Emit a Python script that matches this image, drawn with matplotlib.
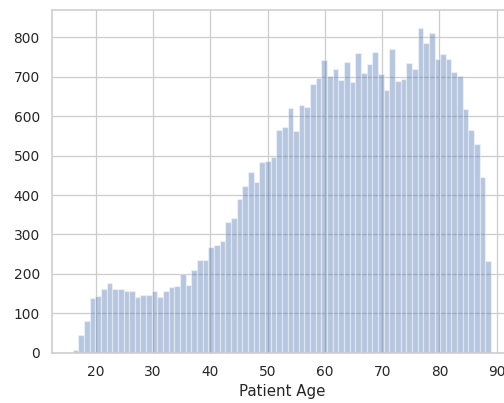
import numpy as np
import matplotlib
matplotlib.use("Agg")
import matplotlib.pyplot as plt
import seaborn as sns

# histogram of patient age: 74 bins between 16 and 89
age_min = 16
age_max = 89
counts = [8, 44, 81, 138, 145, 162, 178, 162, 162, 156,
          156, 142, 147, 147, 156, 142, 156, 168, 170, 201,
          173, 211, 234, 236, 269, 274, 283, 332, 341, 390,
          423, 458, 434, 484, 486, 497, 565, 574, 620, 563,
          628, 623, 682, 698, 743, 701, 719, 693, 739, 688,
          761, 711, 732, 763, 707, 666, 772, 689, 694, 734,
          719, 824, 785, 812, 745, 757, 745, 713, 703, 618,
          566, 530, 445, 232]

sns.set_style("whitegrid")
sns.set_context("notebook")
plt.rcParams['font.family'] = ['DejaVu Sans']

edges = np.linspace(age_min, age_max, len(counts) + 1)

dpi = 90
fig = plt.figure(figsize=(505 / dpi, 403 / dpi), dpi=dpi)
ax = fig.add_axes([51.7 / 505, 50.3 / 403, (512 - 51.7) / 505, (352.7 - 9.5) / 403])

ax.hist(edges[:-1], bins=edges, weights=counts, color="#4c72b0", alpha=0.4)

pad = (age_max - age_min) * 0.05
ax.set_xlim(age_min - pad, age_max + pad)
ax.set_ylim(0, 871)
ax.set_xticks(range(20, 100, 10))
ax.set_yticks(range(0, 900, 100))
ax.tick_params(labelsize=11)
ax.set_xlabel("Patient Age", fontsize=12)

fig.savefig("out.png", dpi=dpi)
